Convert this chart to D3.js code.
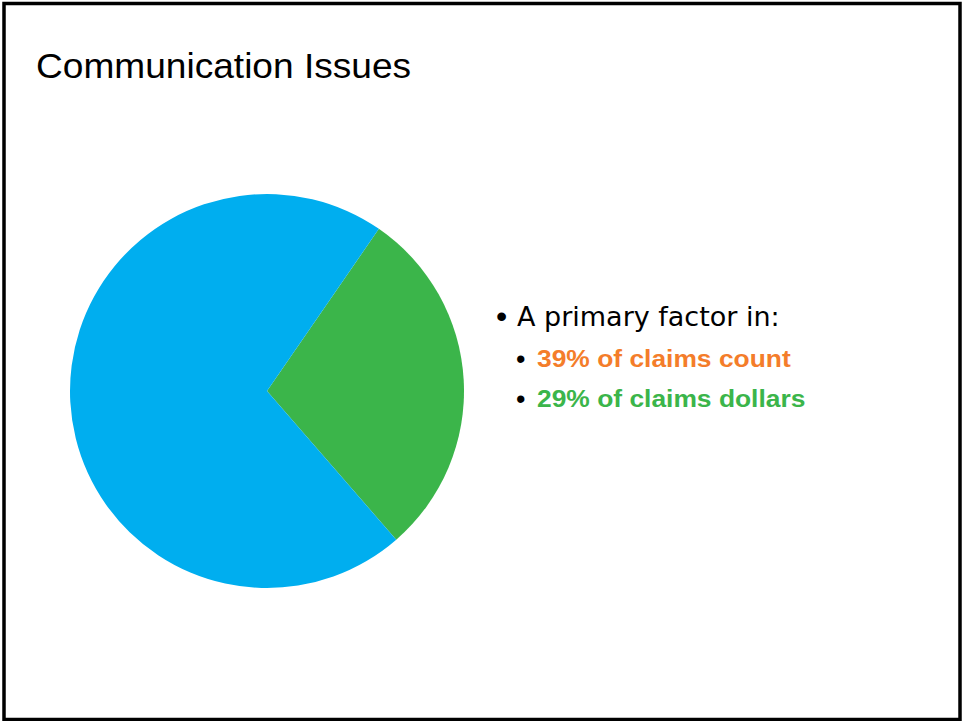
<!DOCTYPE html>
<html>
<head>
<meta charset="utf-8">
<script src="https://cdn.jsdelivr.net/npm/d3@7"></script>
<style>
  html, body { margin: 0; padding: 0; background: #fff; }
  svg { display: block; }
</style>
</head>
<body>
<svg id="chart" width="963" height="721"></svg>
<script>
// Share of claims dollars by primary factor
const categories = ["Communication issues", "Other factors"];
const values = [29, 71];
const colors = ["#3BB54A", "#00AEEF"];

// Slide text
const title = "Communication Issues";
const headline = "A primary factor in:";
const statLines = ["39% of claims count", "29% of claims dollars"];
const statColors = ["#F47D2A", "#3BB54A"];

const W = 963, H = 721;
const svg = d3.select("#chart");

// slide frame
svg.append("rect")
  .attr("x", 4).attr("y", 3.5)
  .attr("width", 956).attr("height", 716)
  .attr("fill", "#fff")
  .attr("stroke", "#000")
  .attr("stroke-width", 3.5);

// title
svg.append("text")
  .attr("transform", "translate(36,78) scale(1.06,1)")
  .attr("font-family", "'Liberation Sans', Arial, sans-serif")
  .attr("font-size", 35)
  .attr("fill", "#000")
  .text(title);

// pie
const cx = 267, cy = 391, radius = 197;
const startDeg = 34.6;
const start = startDeg * Math.PI / 180;
const pie = d3.pie().sort(null).value(d => d.value)
  .startAngle(start).endAngle(start + 2 * Math.PI);
const arc = d3.arc().innerRadius(0).outerRadius(radius);
const data = categories.map((c, i) => ({ category: c, value: values[i] }));
const color = d3.scaleOrdinal().domain(categories).range(colors);

svg.append("g")
  .attr("transform", `translate(${cx},${cy})`)
  .selectAll("path")
  .data(pie(data))
  .join("path")
  .attr("d", arc)
  .attr("fill", d => color(d.data.category));

// bullet text
const tg = svg.append("g");
tg.append("text")
  .attr("x", 496).attr("y", 327)
  .attr("font-family", "'Liberation Sans', Arial, sans-serif")
  .attr("font-size", 32)
  .attr("fill", "#000")
  .text("\u2022");
tg.append("text")
  .attr("x", 517).attr("y", 326)
  .attr("font-family", "'DejaVu Sans', Verdana, sans-serif")
  .attr("font-size", 27)
  .attr("fill", "#000")
  .text(headline);

statLines.forEach((s, i) => {
  const y = 367 + i * 40;
  tg.append("text")
    .attr("x", 516).attr("y", y + 1)
    .attr("font-family", "'Liberation Sans', Arial, sans-serif")
    .attr("font-size", 27)
    .attr("fill", "#000")
    .text("\u2022");
  tg.append("text")
    .attr("transform", `translate(537,${y}) scale(1.1,1)`)
    .attr("font-family", "'Liberation Sans', Arial, sans-serif")
    .attr("font-weight", "bold")
    .attr("font-size", 24)
    .attr("fill", statColors[i])
    .text(s);
});
</script>
</body>
</html>
